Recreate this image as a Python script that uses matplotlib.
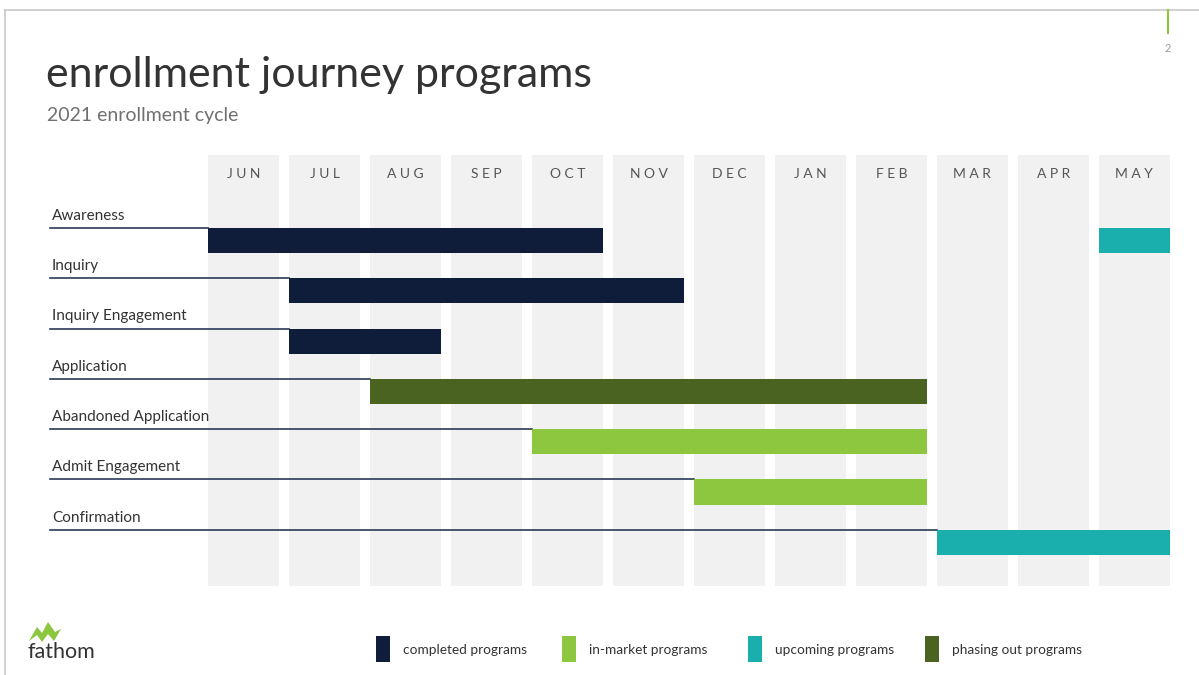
import matplotlib
matplotlib.use("Agg")
import matplotlib.pyplot as plt
from matplotlib.lines import Line2D
from matplotlib.patches import Polygon, Rectangle

plt.rcParams['font.family'] = ['Lato', 'DejaVu Sans']

# data
months = ['JUN', 'JUL', 'AUG', 'SEP', 'OCT', 'NOV', 'DEC', 'JAN', 'FEB', 'MAR', 'APR', 'MAY']
rows = ['Awareness', 'Inquiry', 'Inquiry Engagement', 'Application',
        'Abandoned Application', 'Admit Engagement', 'Confirmation']
# bar segments: row index, first month index, last month index (inclusive), status
seg_row = [0, 0, 1, 2, 3, 4, 5, 6]
seg_start = [0, 11, 1, 1, 2, 4, 6, 9]
seg_end = [4, 11, 5, 2, 8, 8, 8, 11]
seg_status = ['completed', 'upcoming', 'completed', 'completed',
              'phasing', 'in-market', 'in-market', 'upcoming']

status_names = ['completed', 'in-market', 'upcoming', 'phasing']
status_labels = ['completed programs', 'in-market programs', 'upcoming programs', 'phasing out programs']
status_colors = {'completed': '#0f1d3a', 'in-market': '#8dc63f',
                 'upcoming': '#1aaeac', 'phasing': '#4b6320'}

W, H = 1199, 675
fig = plt.figure(figsize=(W / 100, H / 100), dpi=100)
fig.patch.set_facecolor('white')


def fx(x):
    return x / W


def fy(y):
    return 1 - y / H


# chart area in pixels
left, right, top, bottom = 208, 1170, 155, 586
ax = fig.add_axes([fx(left), fy(bottom), (right - left) / W, (bottom - top) / H])
col_w = 0.88
ax.set_xlim(0, len(months) - 1 + col_w)
ax.set_ylim(6.87, -1.70)
ax.axis('off')

# month columns
for i, m in enumerate(months):
    ax.add_patch(Rectangle((i, -1.70), col_w, 8.57, color='#f1f1f1', lw=0, zorder=0))
    ax.text(i + col_w / 2, -1.32, ' '.join(m), ha='center', va='center',
            fontsize=10, color='#555555')

bar_h = 0.5
# row labels and leader lines
first_start = {}
for r, s in zip(seg_row, seg_start):
    first_start[r] = min(first_start.get(r, 99), s)
for i, name in enumerate(rows):
    ax.add_line(Line2D([-1.95, first_start[i]], [i - bar_h / 2, i - bar_h / 2],
                       color='#2b3a55', lw=1.2, clip_on=False, zorder=2))
    ax.text(-1.925, i - bar_h / 2 - 0.1, name, ha='left', va='bottom',
            fontsize=11, color='#333333', clip_on=False)

# bars
for r, s, e, st in zip(seg_row, seg_start, seg_end, seg_status):
    ax.barh(r, e + col_w - s, left=s, height=bar_h, color=status_colors[st], zorder=3)

# title
fig.text(fx(46), fy(75), 'enrollment journey programs', fontsize=31, color='#333333',
         ha='left', va='center')
fig.text(fx(47), fy(116), '2021 enrollment cycle', fontsize=14, color='#707070',
         ha='left', va='center')

# slide frame
fig.add_artist(Line2D([fx(5), fx(W)], [fy(10), fy(10)], color='#c8c8c8', lw=1.2))
fig.add_artist(Line2D([fx(5), fx(5)], [fy(10), fy(H)], color='#c8c8c8', lw=1.2))
fig.add_artist(Line2D([fx(1168), fx(1168)], [fy(10), fy(33)], color='#8dc63f', lw=1.5))
fig.text(fx(1168), fy(48), '2', fontsize=8, color='#999999', ha='center', va='center')

# logo
logo = [(29, 641), (37, 627), (42, 633), (48, 622), (55, 632), (61, 629), (54, 641),
        (48, 634), (42, 642), (37, 635)]
fig.add_artist(Polygon([(fx(x), fy(y)) for x, y in logo], closed=True,
                       color='#8dc63f', lw=0))
fig.text(fx(27), fy(652), 'fathom', fontsize=15.5, color='#333333', ha='left', va='center')

# legend
sq_x = [376, 562, 748, 925]
for x0, st, lab in zip(sq_x, status_names, status_labels):
    fig.add_artist(Rectangle((fx(x0), fy(662)), 14 / W, 26 / H, color=status_colors[st], lw=0))
    fig.text(fx(x0 + 27), fy(650), lab, fontsize=9.8, color='#333333', ha='left', va='center')

fig.savefig('out.png', dpi=100)
